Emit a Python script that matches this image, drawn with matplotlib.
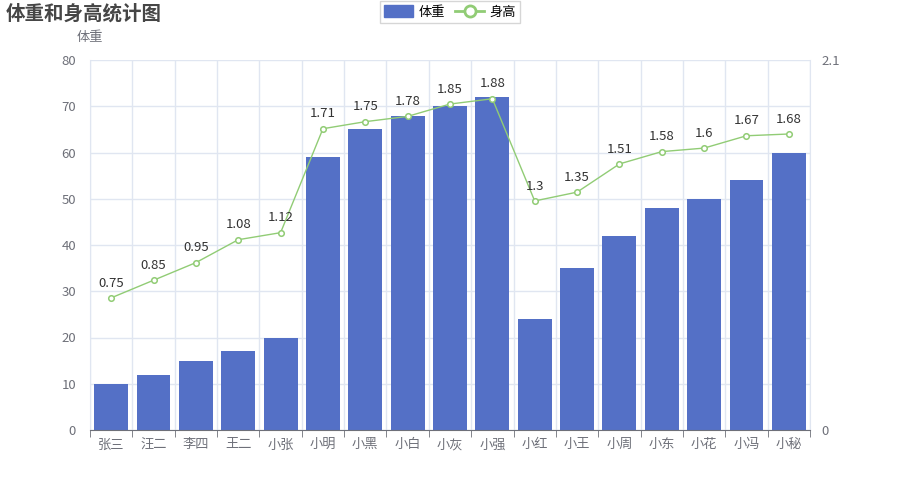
import matplotlib.pyplot as plt
from matplotlib.lines import Line2D
from matplotlib.patches import Patch

plt.rcParams['font.family'] = ['Noto Sans CJK SC', 'DejaVu Sans']

names = ["张三", "汪二", "李四", "王二", "小张", "小明", "小黑", "小白", "小灰", "小强",
         "小红", "小王", "小周", "小东", "小花", "小冯", "小秘"]
weight = [10, 12, 15, 17, 20, 59, 65, 68, 70, 72, 24, 35, 42, 48, 50, 54, 60]
height = [0.75, 0.85, 0.95, 1.08, 1.12, 1.71, 1.75, 1.78, 1.85, 1.88,
          1.3, 1.35, 1.51, 1.58, 1.6, 1.67, 1.68]

bar_col = "#5470c6"
line_col = "#91cc75"
text_col = "#6e7079"
grid_col = "#e0e6f1"

fig = plt.figure(figsize=(9, 5), dpi=100)
ax1 = fig.add_axes([0.1, 0.14, 0.8, 0.74])
x = list(range(len(names)))

ax1.bar(x, weight, width=0.8, color=bar_col, zorder=2)
ax1.set_xlim(-0.5, len(names) - 0.5)
ax1.set_ylim(0, 80)
ax1.set_yticks(range(0, 81, 10))
ax1.set_xticks(x)
ax1.set_xticklabels(names)
ax1.set_xticks([i - 0.5 for i in range(len(names) + 1)], minor=True)
ax1.grid(axis='y', color=grid_col, lw=1, zorder=0)
ax1.grid(axis='x', which='minor', color=grid_col, lw=1, zorder=0)
ax1.tick_params(axis='x', which='major', length=0, colors=text_col, labelsize=9.5, pad=6)
ax1.tick_params(axis='x', which='minor', length=5, color=text_col)
ax1.tick_params(axis='y', length=0, colors=text_col, labelsize=9.5, pad=10)
ax1.spines['top'].set_visible(False)
ax1.spines['left'].set_color(grid_col)
ax1.spines['right'].set_color(grid_col)
ax1.spines['bottom'].set_color(text_col)
ax1.spines['bottom'].set_zorder(5)

ax2 = ax1.twinx()
ax2.plot(x, height, color=line_col, lw=1, marker='o', ms=4, mfc='white',
         mec=line_col, mew=1.1, zorder=3)
for xi, h in zip(x, height):
    ax2.annotate(f"{h:g}", (xi, h), xytext=(0, 6), textcoords='offset points',
                 ha='center', va='bottom', fontsize=9.5, color='#333333')
ax2.set_ylim(0, 2.1)
ax2.set_yticks([0, 2.1])
ax2.set_yticklabels(["0", "2.1"])
ax2.tick_params(axis='y', length=0, colors=text_col, labelsize=9.5, pad=8)
for s in ax2.spines.values():
    s.set_visible(False)

fig.text(0.006, 0.972, "体重和身高统计图", fontsize=14, fontweight='bold',
         color='#464646', ha='left', va='center')
fig.text(0.1, 0.924, "体重", fontsize=9.5, color=text_col, ha='center', va='center')

handles = [Patch(facecolor=bar_col, edgecolor=bar_col),
           Line2D([], [], color=line_col, marker='o', ms=8, mfc='white', mec=line_col, mew=2, lw=2)]
fig.legend(handles, ["体重", "身高"], loc='center', bbox_to_anchor=(0.5, 0.976), ncol=2,
           frameon=True, fontsize=9.5, handlelength=2.2, handleheight=1.0, columnspacing=0.8,
           handletextpad=0.4, borderpad=0.3, edgecolor='#cccccc', fancybox=False)

fig.savefig("out.png", dpi=100)
